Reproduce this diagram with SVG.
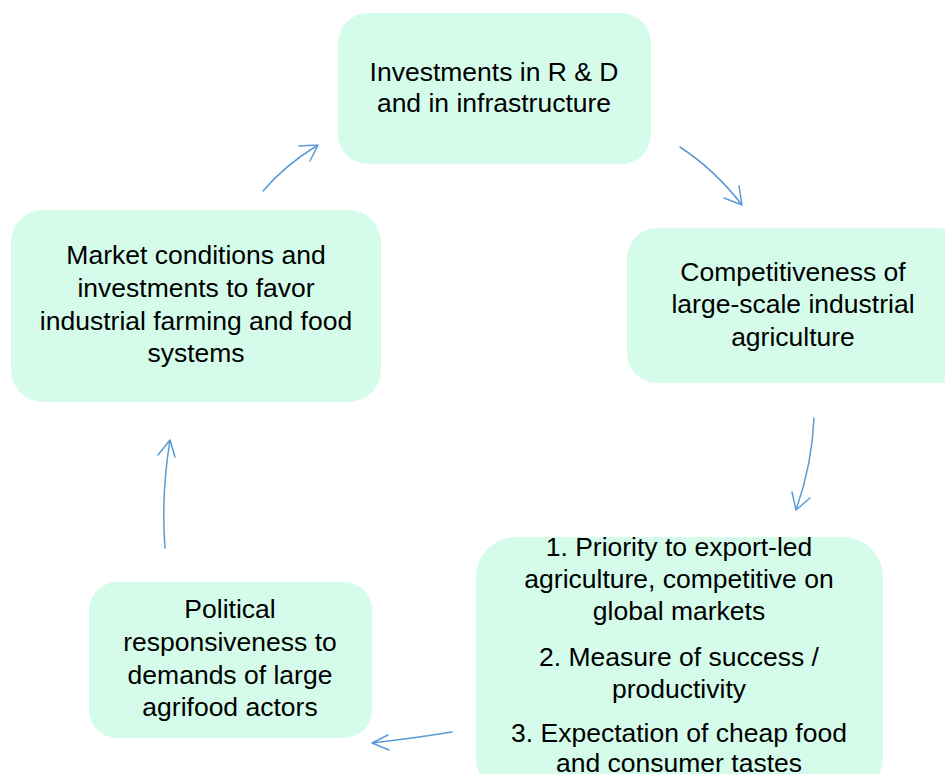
<svg xmlns="http://www.w3.org/2000/svg" width="945" height="774" viewBox="0 0 945 774">
<style>
.box{fill:#d5fceb;stroke:none}
.t{font-family:"Liberation Sans","Open Sans",sans-serif;font-size:26.5px;fill:#000;text-anchor:middle}
.c{fill:none;stroke:#5b9bd5;stroke-width:1.5;stroke-linecap:round;stroke-linejoin:round}
</style>
<rect width="945" height="774" fill="#fff"/>
<g id="n1"><rect class="box" x="338" y="13" width="313" height="151" rx="30"/>
<text class="t" x="494" y="81">Investments in R &amp; D</text>
<text class="t" x="494" y="112">and in infrastructure</text></g>
<g id="n2"><rect class="box" x="627" y="228" width="340" height="155" rx="30"/>
<text class="t" x="793" y="281">Competitiveness of</text>
<text class="t" x="793" y="313">large-scale industrial</text>
<text class="t" x="793" y="346">agriculture</text></g>
<g id="n3"><rect class="box" x="476" y="537" width="407" height="260" rx="40"/>
<text class="t" x="679" y="556">1. Priority to export-led</text>
<text class="t" x="679" y="588">agriculture, competitive on</text>
<text class="t" x="679" y="620">global markets</text>
<text class="t" x="679" y="666">2. Measure of success /</text>
<text class="t" x="679" y="698">productivity</text>
<text class="t" x="679" y="742">3. Expectation of cheap food</text>
<text class="t" x="679" y="772">and consumer tastes</text></g>
<g id="n4"><rect class="box" x="89" y="582" width="283" height="156" rx="28"/>
<text class="t" x="230" y="618">Political</text>
<text class="t" x="230" y="651">responsiveness to</text>
<text class="t" x="230" y="684">demands of large</text>
<text class="t" x="230" y="716">agrifood actors</text></g>
<g id="n5"><rect class="box" x="11" y="210" width="370" height="192" rx="32"/>
<text class="t" x="196" y="264">Market conditions and</text>
<text class="t" x="196" y="297">investments to favor</text>
<text class="t" x="196" y="330">industrial farming and food</text>
<text class="t" x="196" y="362">systems</text></g>
<g id="connectors">
<path class="c" d="M263,191 Q285,165 318,145 M299,146 L318,145 L310,161"/>
<path class="c" d="M680,147 Q715,170 742,205 M724,198 L742,205 L739,186"/>
<path class="c" d="M814,418 Q812,465 796,510 M792,492 L796,510 L810,498"/>
<path class="c" d="M452,732 Q415,738 372,743 M388,735 L372,743 L389,750"/>
<path class="c" d="M165,548 Q161,495 170,440 M158,455 L170,440 L175,457"/>
</g>
</svg>
